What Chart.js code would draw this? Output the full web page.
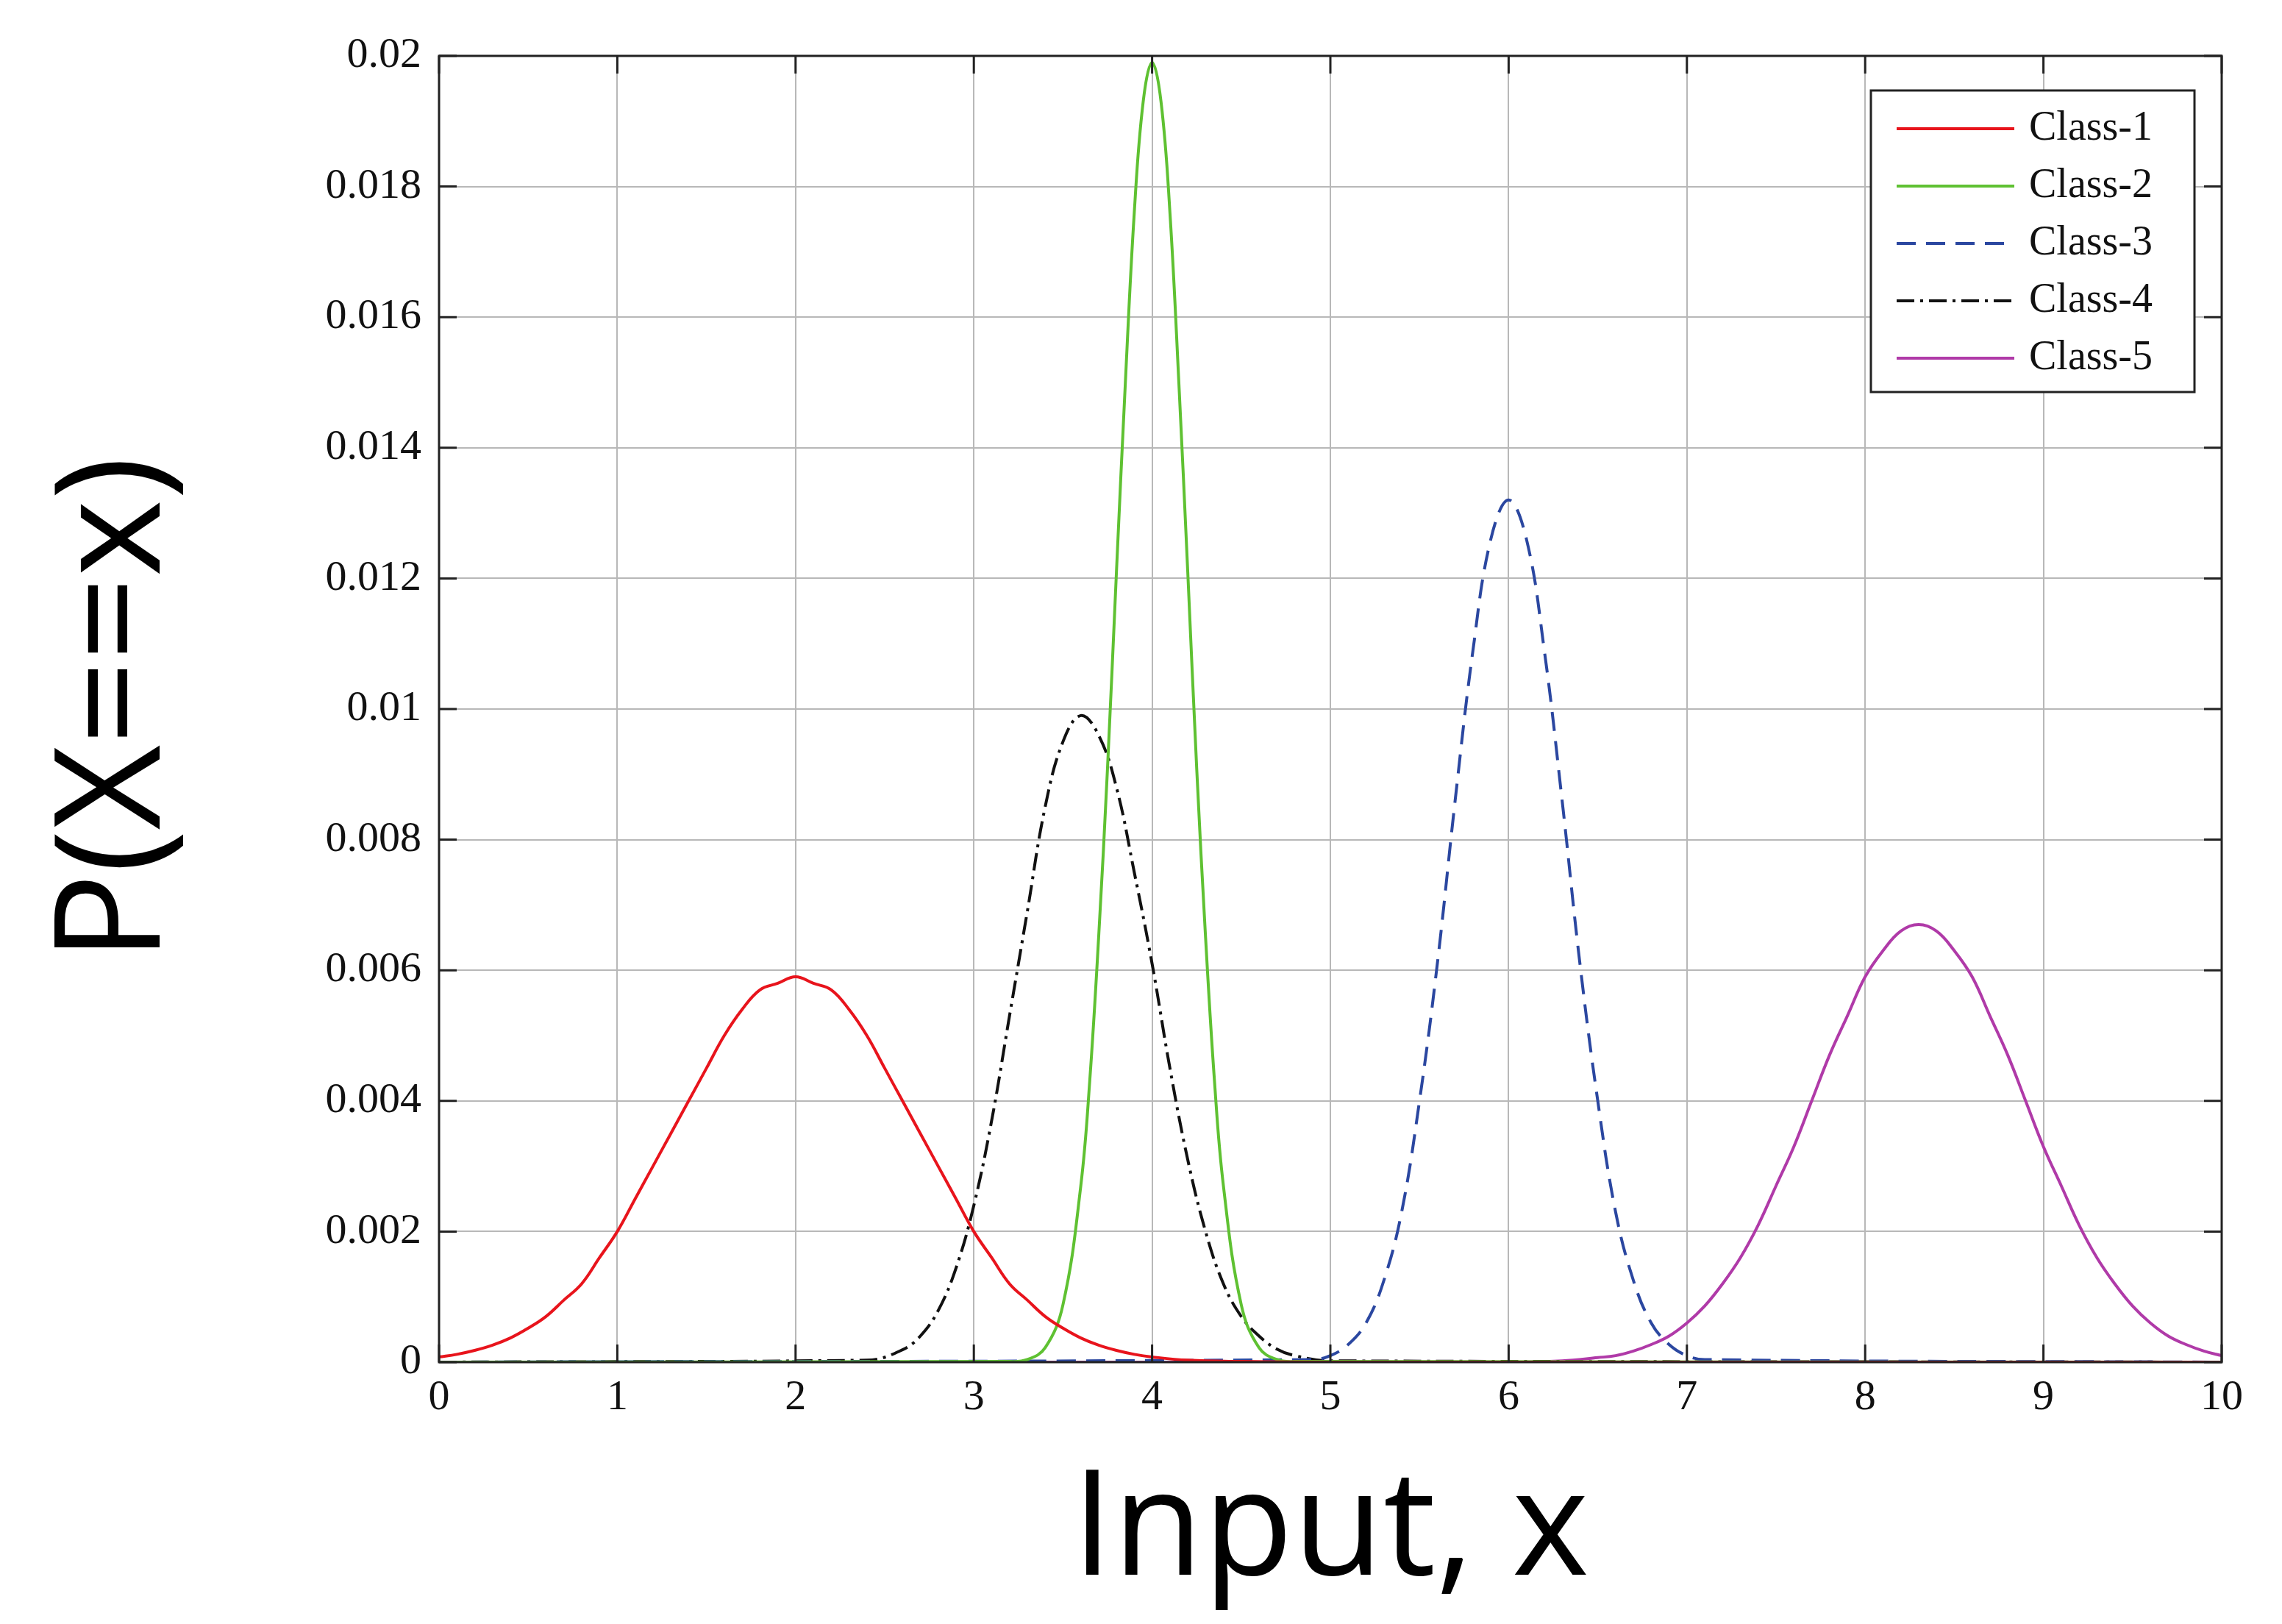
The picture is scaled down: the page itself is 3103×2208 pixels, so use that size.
<!DOCTYPE html>
<html>
<head>
<meta charset="utf-8">
<script src="https://cdn.jsdelivr.net/npm/chart.js@4"></script>
<style>
  html, body { margin: 0; padding: 0; background: #fff; }
  #wrap { width: 3103px; height: 2208px; }
</style>
</head>
<body>
<div id="wrap"><canvas id="chart" width="3103" height="2208"></canvas></div>
<script>
const classNames = ["Class-1", "Class-2", "Class-3", "Class-4", "Class-5"]
const classColors = ["#e8141c", "#5fc132", "#2b47a0", "#111111", "#b03aa8"]
const classDash = [[], [], [26, 14], [24, 8, 4, 8], []]

// values
const class1X = [0, 0.1, 0.2, 0.3, 0.4, 0.5, 0.6, 0.7, 0.8, 0.9, 1.0, 1.1, 1.2, 1.3, 1.4, 1.5, 1.6, 1.7, 1.8, 1.9, 2.0,
  2.1, 2.2, 2.3, 2.4, 2.5, 2.6, 2.7, 2.8, 2.9, 3.0, 3.1, 3.2, 3.3, 3.4, 3.5, 3.6, 3.7, 3.8, 3.9, 4.0, 4.2, 4.5, 5.0, 10]
const class1Y = [0.00008, 0.00012, 0.00018, 0.00026, 0.00037, 0.00052, 0.0007, 0.00095, 0.0012, 0.0016, 0.0020,
  0.0025, 0.0030, 0.0035, 0.0040, 0.0045, 0.0050, 0.0054, 0.0057, 0.0058, 0.0059,
  0.0058, 0.0057, 0.0054, 0.0050, 0.0045, 0.0040, 0.0035, 0.0030, 0.0025, 0.0020,
  0.0016, 0.0012, 0.00095, 0.0007, 0.00052, 0.00037, 0.00026, 0.00018, 0.00012, 0.00008, 0.00003, 0.00001, 0, 0]

const class2X = [0, 3.2, 3.3, 3.4, 3.5, 3.6, 3.65, 3.7, 3.75, 3.8, 3.85, 3.9, 3.95, 4.0,
  4.05, 4.1, 4.15, 4.2, 4.25, 4.3, 4.35, 4.4, 4.5, 4.6, 4.7, 4.8, 10]
const class2Y = [0, 0.00001, 0.00004, 0.00022, 0.00088, 0.0027, 0.0043, 0.0065, 0.0091, 0.0121, 0.0150, 0.0176, 0.0193, 0.0199,
  0.0193, 0.0176, 0.0150, 0.0121, 0.0091, 0.0065, 0.0043, 0.0027, 0.00088, 0.00022, 0.00004, 0.00001, 0]

const class3X = [0, 4.9, 5.0, 5.1, 5.2, 5.3, 5.4, 5.5, 5.6, 5.7, 5.8, 5.9, 6.0,
  6.1, 6.2, 6.3, 6.4, 6.5, 6.6, 6.7, 6.8, 6.9, 7.0, 7.1, 10]
const class3Y = [0, 0.00004, 0.0001, 0.00027, 0.0006, 0.00125, 0.0023, 0.0040, 0.0061, 0.0086, 0.0109, 0.0126, 0.0132,
  0.0126, 0.0109, 0.0086, 0.0061, 0.0040, 0.0023, 0.00125, 0.0006, 0.00027, 0.0001, 0.00004, 0]

const class4X = [0, 2.4, 2.6, 2.7, 2.8, 2.9, 3.0, 3.1, 3.2, 3.3, 3.4, 3.5, 3.6,
  3.7, 3.8, 3.9, 4.0, 4.1, 4.2, 4.3, 4.4, 4.5, 4.6, 4.7, 4.8, 5.0, 10]
const class4Y = [0, 0.00003, 0.00019, 0.0004, 0.00079, 0.00144, 0.0024, 0.0037, 0.0053, 0.0069, 0.0085, 0.0095, 0.0099,
  0.0096, 0.0088, 0.0075, 0.0061, 0.0045, 0.0031, 0.0020, 0.0012, 0.0007, 0.0004, 0.0002, 0.0001, 0.00002, 0]

const class5X = [0, 6.0, 6.3, 6.5, 6.6, 6.7, 6.8, 6.9, 7.0, 7.1, 7.2, 7.3, 7.4, 7.5, 7.6, 7.7, 7.8, 7.9, 8.0, 8.1, 8.2, 8.3,
  8.4, 8.5, 8.6, 8.7, 8.8, 8.9, 9.0, 9.1, 9.2, 9.3, 9.4, 9.5, 9.6, 9.7, 9.8, 9.9, 10.0]
const class5Y = [0, 0, 0.00002, 0.00007, 0.0001, 0.00017, 0.00027, 0.0004, 0.0006, 0.00086, 0.0012, 0.0016, 0.0021, 0.0027,
  0.0033, 0.0040, 0.0047, 0.0053, 0.0059, 0.0063, 0.0066, 0.0067,
  0.0066, 0.0063, 0.0059, 0.0053, 0.0047, 0.0040, 0.0033, 0.0027, 0.0021, 0.0016, 0.0012, 0.00086, 0.0006, 0.0004, 0.00027, 0.00017, 0.0001]

const xTicks = [0, 1, 2, 3, 4, 5, 6, 7, 8, 9, 10]
const yTicks = [0, 0.002, 0.004, 0.006, 0.008, 0.01, 0.012, 0.014, 0.016, 0.018, 0.02]

const seriesX = [class1X, class2X, class3X, class4X, class5X]
const seriesY = [class1Y, class2Y, class3Y, class4Y, class5Y]

const datasets = classNames.map((name, i) => ({
  label: name,
  data: seriesX[i].map((x, j) => ({ x: x, y: seriesY[i][j] })),
  borderColor: classColors[i],
  borderWidth: 4,
  borderDash: classDash[i],
  pointRadius: 0,
  fill: false,
  tension: 0.4
}))

const serif = "'Liberation Serif', 'DejaVu Serif', serif"

// box, inward ticks and legend drawn like the matlab figure
const framePlugin = {
  id: "frame",
  afterDatasetsDraw(chart) {
    const { ctx, chartArea: a, scales } = chart
    ctx.save()
    ctx.strokeStyle = "#222"
    ctx.lineWidth = 3
    ctx.strokeRect(a.left, a.top, a.right - a.left, a.bottom - a.top)
    ctx.beginPath()
    xTicks.forEach(v => {
      const px = scales.x.getPixelForValue(v)
      ctx.moveTo(px, a.bottom); ctx.lineTo(px, a.bottom - 24)
      ctx.moveTo(px, a.top); ctx.lineTo(px, a.top + 24)
    })
    yTicks.forEach(v => {
      const py = scales.y.getPixelForValue(v)
      ctx.moveTo(a.left, py); ctx.lineTo(a.left + 24, py)
      ctx.moveTo(a.right, py); ctx.lineTo(a.right - 24, py)
    })
    ctx.stroke()

    const bx = 2544, by = 123, bw = 440, bh = 410
    ctx.fillStyle = "#fff"
    ctx.fillRect(bx, by, bw, bh)
    ctx.lineWidth = 3
    ctx.strokeStyle = "#222"
    ctx.strokeRect(bx, by, bw, bh)
    ctx.font = "56px " + serif
    ctx.textBaseline = "middle"
    classNames.forEach((name, i) => {
      const y = by + 52 + i * 78
      ctx.strokeStyle = classColors[i]
      ctx.lineWidth = 4
      ctx.setLineDash(classDash[i])
      ctx.beginPath()
      ctx.moveTo(bx + 35, y); ctx.lineTo(bx + 195, y)
      ctx.stroke()
      ctx.setLineDash([])
      ctx.fillStyle = "#111"
      ctx.fillText(name, bx + 215, y)
    })
    ctx.restore()
  }
}

new Chart(document.getElementById("chart"), {
  type: "line",
  data: { datasets: datasets },
  plugins: [framePlugin],
  options: {
    responsive: false,
    animation: false,
    layout: { padding: { top: 76, right: 82, left: 0, bottom: 0 } },
    plugins: { legend: { display: false }, tooltip: { enabled: false } },
    scales: {
      x: {
        type: "linear",
        min: 0, max: 10,
        afterBuildTicks: axis => { axis.ticks = xTicks.map(v => ({ value: v })) },
        afterFit: axis => { axis.height = 356 },
        grid: { color: "#b8b8b8", lineWidth: 2, drawTicks: false },
        border: { display: false },
        ticks: { color: "#111", font: { family: serif, size: 58 }, padding: 14 },
        title: { display: true, text: "Input, x", color: "#000", font: { family: "'Open Sans', sans-serif", size: 200 }, padding: { top: -20 } }
      },
      y: {
        min: 0, max: 0.02,
        afterBuildTicks: axis => { axis.ticks = yTicks.map(v => ({ value: v })) },
        afterFit: axis => { axis.width = 597 },
        grid: { color: "#b8b8b8", lineWidth: 2, drawTicks: false },
        border: { display: false },
        ticks: {
          color: "#111", font: { family: serif, size: 58 }, padding: 24,
          callback: v => parseFloat(v.toFixed(3)).toString()
        },
        title: { display: true, text: "P(X==x)", color: "#000", font: { family: "'Open Sans', sans-serif", size: 200 }, padding: { top: 40, bottom: 20 } }
      }
    }
  }
})
</script>
</body>
</html>
